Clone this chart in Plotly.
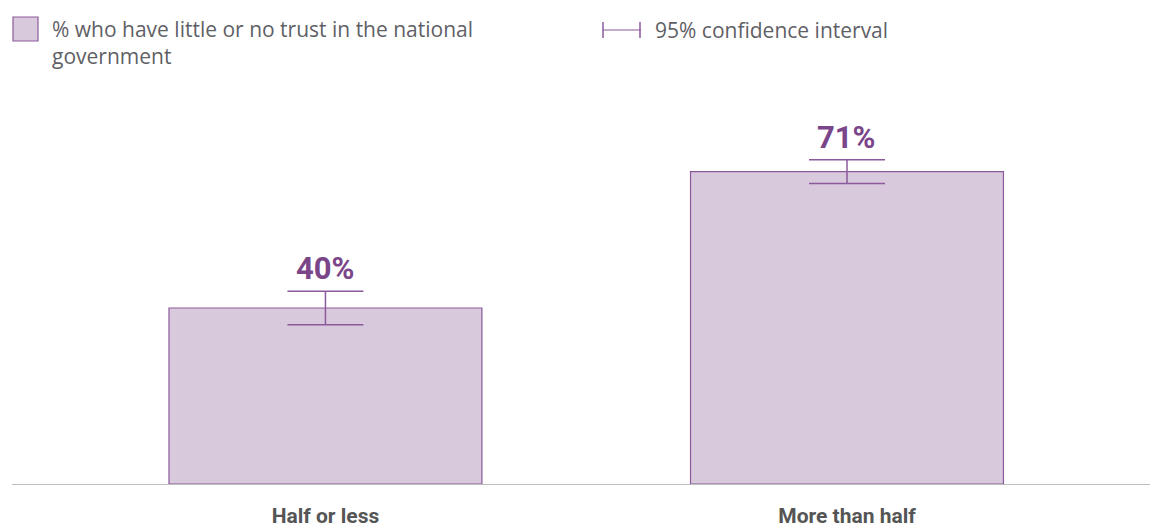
import plotly.graph_objects as go

categories = ["Half or less", "More than half"]
values = [40, 71]
ci_plus = [3.8, 2.7]
ci_minus = [3.8, 2.7]
value_labels = ["40%", "71%"]

legend_bar = "% who have little or no trust in the national<br>government"
legend_ci = "95% confidence interval"

BAR_FILL = "#d8c9dc"
PURPLE = "#8b5a9c"
LABEL_PURPLE = "#7a4689"
TEXT_GREY = "#5f5f66"

W, H = 1150, 529
M_L, M_R, M_T, M_B = 12, 0, 132, 45
PLOT_W = W - M_L - M_R
PLOT_H = H - M_T - M_B


def px(x):
    return (x - M_L) / PLOT_W


def py(y):
    return (H - M_B - y) / PLOT_H


fig = go.Figure()
fig.add_trace(go.Bar(
    x=categories, y=values, width=0.6,
    marker=dict(color=BAR_FILL, line=dict(color=PURPLE, width=1.2)),
    error_y=dict(type="data", symmetric=False, array=ci_plus, arrayminus=ci_minus,
                 color=PURPLE, thickness=1.5, width=38),
    showlegend=False, hoverinfo="skip",
))

for cat, v, p, lab in zip(categories, values, ci_plus, value_labels):
    fig.add_annotation(
        x=cat, y=v + p, text=f"<b>{lab}</b>", showarrow=False,
        yanchor="bottom", yshift=2,
        font=dict(family="Roboto", size=31, color=LABEL_PURPLE),
    )

# legend, drawn by hand
shapes = [
    dict(type="rect", xref="paper", yref="paper",
         x0=px(13), x1=px(38), y0=py(41), y1=py(17),
         fillcolor=BAR_FILL, line=dict(color=PURPLE, width=1.2)),
    dict(type="line", xref="paper", yref="paper",
         x0=px(603), x1=px(641), y0=py(30), y1=py(30),
         line=dict(color=PURPLE, width=1.2)),
    dict(type="line", xref="paper", yref="paper",
         x0=px(603), x1=px(603), y0=py(22), y1=py(38),
         line=dict(color=PURPLE, width=1.5)),
    dict(type="line", xref="paper", yref="paper",
         x0=px(640), x1=px(640), y0=py(22), y1=py(38),
         line=dict(color=PURPLE, width=1.5)),
]
fig.add_annotation(
    xref="paper", yref="paper", x=px(50), y=py(13), xanchor="left", yanchor="top",
    text=legend_bar, showarrow=False, align="left",
    font=dict(family="Open Sans", size=21, color=TEXT_GREY),
)
fig.add_annotation(
    xref="paper", yref="paper", x=px(653), y=py(30), xanchor="left", yanchor="middle",
    text=legend_ci, showarrow=False, align="left",
    font=dict(family="Open Sans", size=21, color=TEXT_GREY),
)

fig.update_layout(
    width=W, height=H,
    margin=dict(l=M_L, r=M_R, t=M_T, b=M_B),
    paper_bgcolor="white", plot_bgcolor="white",
    shapes=shapes,
    xaxis=dict(type="category", range=[-0.601, 1.581], showline=True,
               linecolor="#bdbdbd", linewidth=1, showgrid=False, ticks="",
               automargin=False, ticklabelstandoff=13,
               tickfont=dict(family="Roboto", size=21, color="#555555", weight="bold")),
    yaxis=dict(range=[0, 80], visible=False, showgrid=False, zeroline=False),
)

fig.write_html("out.html", config={"displayModeBar": False},
               post_script="document.body.style.margin='0';")
